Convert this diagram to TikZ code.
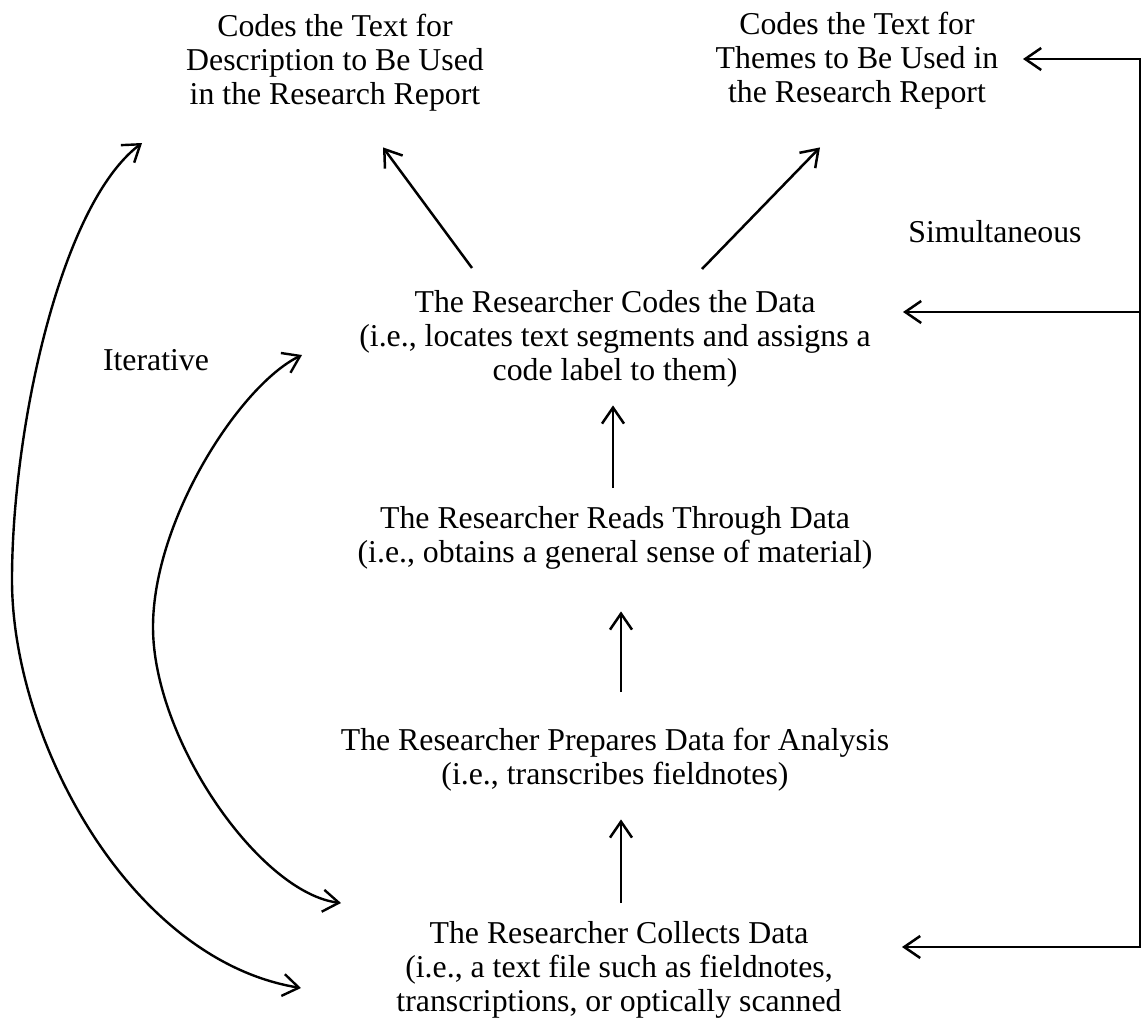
\documentclass[tikz,border=0pt]{standalone}
\usepackage{fontspec}
\setmainfont{Liberation Serif}
\usetikzlibrary{arrows.meta,calc}
\begin{document}
\begin{tikzpicture}[x=1pt,y=-1pt,
  txt/.style={inner sep=0pt,anchor=base,font=\fontsize{31.8}{34}\selectfont},
  arr/.style={line width=2.5pt,-{Straight Barb[length=16pt,width=22pt]}},
  dblarr/.style={line width=2.4pt,{Straight Barb[length=16pt,width=22pt]}-{Straight Barb[length=16pt,width=22pt]}}]
\useasboundingbox (0,0) rectangle (1144,1025);
% text blocks
\node[txt] (desc) at (335,37) {\begin{tabular}[t]{@{}c@{}}Codes the Text for\\Description to Be Used\\in the Research Report\end{tabular}};
\node[txt] (themes) at (857,35) {\begin{tabular}[t]{@{}c@{}}Codes the Text for\\Themes to Be Used in\\the Research Report\end{tabular}};
\node[txt] (simul) at (995,242) {Simultaneous};
\node[txt] (iter) at (156,370) {Iterative};
\node[txt] (codes) at (615,312) {\begin{tabular}[t]{@{}c@{}}The Researcher Codes the Data\\(i.e., locates text segments and assigns a\\code label to them)\end{tabular}};
\node[txt] (reads) at (615,528) {\begin{tabular}[t]{@{}c@{}}The Researcher Reads Through Data\\(i.e., obtains a general sense of material)\end{tabular}};
\node[txt] (prep) at (615,750) {\begin{tabular}[t]{@{}c@{}}The Researcher Prepares Data for Analysis\\(i.e., transcribes fieldnotes)\end{tabular}};
\node[txt] (coll) at (619,943) {\begin{tabular}[t]{@{}c@{}}The Researcher Collects Data\\(i.e., a text file such as fieldnotes,\\transcriptions, or optically scanned\end{tabular}};
% vertical arrows
\draw[arr] ($(reads.north)+(-2,-16)$) -- ($(codes.south)+(-2,15)$);
\draw[arr] ($(prep.north)+(6,-34)$) -- ($(reads.south)+(6,39)$);
\draw[arr] ($(coll.north)+(2,-16)$) -- ($(prep.south)+(6,25)$);
% diagonals
\draw[arr] ($(codes.north)+(-143,-20)$) -- ($(desc.south)+(48,32)$);
\draw[arr] ($(codes.north)+(87,-19)$) -- ($(themes.south)+(-37,34)$);
% right bracket (Simultaneous)
\coordinate (bt) at (1140,59);
\coordinate (bm) at (1140,312);
\coordinate (bb) at (1140,947);
\coordinate (bttip) at (1023,59);
\coordinate (bmtip) at (903,312);
\coordinate (bbtip) at (902,947);
\draw[dblarr,line width=2.5pt,line join=miter] (bttip) -- (bt) -- (bb) -- (bbtip);
\draw[arr] (bm) -- (bmtip);
% left curves (Iterative)
\coordinate (oa) at (301,988);
\coordinate (om) at (12,580);
\coordinate (ob) at (142,143);
\coordinate (ia) at (341,903);
\coordinate (im) at (153,627);
\coordinate (ib) at (302,355);
\draw[dblarr] (oa) .. controls (130,960) and (12,740) .. (om) .. controls (12,430) and (60,205) .. (ob);
\draw[dblarr] (ia) .. controls (260,893) and (153,740) .. (im) .. controls (153,520) and (240,385) .. (ib);
\end{tikzpicture}
\end{document}
